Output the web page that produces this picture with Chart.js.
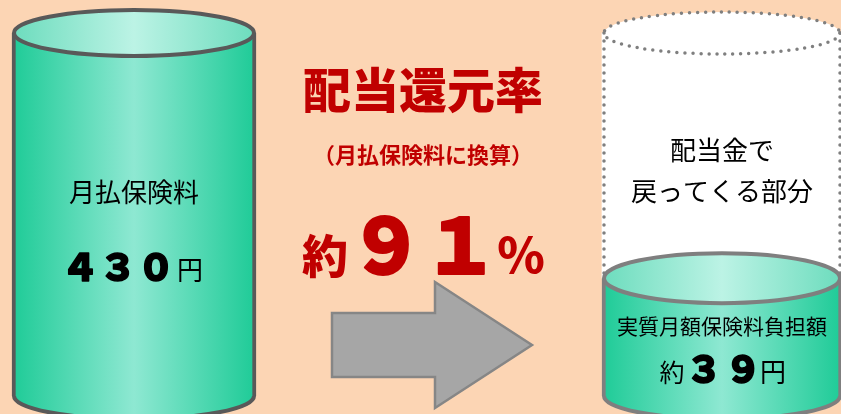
<!DOCTYPE html>
<html lang="ja">
<head>
<meta charset="utf-8">
<title>配当還元率</title>
<script src="https://cdn.jsdelivr.net/npm/chart.js@4.4.1/dist/chart.umd.min.js"></script>
<style>
    html, body { margin: 0; padding: 0; background: #FCD5B4; }
    #wrap { position: relative; width: 841px; height: 414px; }
</style>
</head>
<body>
<div id="wrap"><canvas id="returnChart"></canvas></div>
<script>
// Chart data
const categories = ['月払保険料', '実質月額保険料負担額'];
const monthlyPremium = [430, null];   // 月払保険料 (円)
const netPremium = [null, 39];        // 実質月額保険料負担額 (円)
const dividendPart = [null, [39, 430]]; // 配当金で戻ってくる部分
const returnRate = 91;                // 配当還元率 (%)

const FONT = "'Noto Sans CJK JP', 'Noto Sans', sans-serif";
const barWidths = [244, 240];

// half-width digits -> full-width
function fullWidth(n) {
    return String(n).replace(/[0-9]/g, d => String.fromCharCode(d.charCodeAt(0) + 0xFEE0));
}

function bodyGradient(c) {
    const chart = c.chart;
    if (!chart.chartArea) return '#1ECB97';
    const x = chart.scales.x.getPixelForValue(c.dataIndex);
    const w = barWidths[c.dataIndex];
    const g = chart.ctx.createLinearGradient(x - w / 2, 0, x + w / 2, 0);
    g.addColorStop(0, '#1ECB97');
    g.addColorStop(0.5, '#8EE8D2');
    g.addColorStop(1, '#1ECB97');
    return g;
}

function topGradient(ctx, x, w) {
    const g = ctx.createLinearGradient(x - w / 2, 0, x + w / 2, 0);
    g.addColorStop(0, '#6CDCBD');
    g.addColorStop(0.5, '#BCF3E5');
    g.addColorStop(1, '#6CDCBD');
    return g;
}

function hasValue(chart, di, i) {
    return chart.data.datasets[di].data[i] != null;
}

// heavier text: fill plus a thin stroke of the same colour
function heavyText(ctx, txt, x, y, extra) {
    ctx.fillText(txt, x, y);
    ctx.lineWidth = extra;
    ctx.strokeStyle = ctx.fillStyle;
    ctx.strokeText(txt, x, y);
}

// draws the round tops / bottoms of the bars so they look like cylinders
const cylinderPlugin = {
    id: 'cylinders',
    afterDatasetsDraw(chart) {
        const ctx = chart.ctx;
        ctx.save();

        // dotted cylinder (配当金で戻ってくる部分)
        chart.getDatasetMeta(2).data.forEach((bar, i) => {
            if (!hasValue(chart, 2, i)) return;
            const rx = bar.width / 2 - 2, ry = 21;
            ctx.beginPath();
            ctx.ellipse(bar.x, bar.y, rx, ry, 0, 0, Math.PI * 2);
            ctx.fillStyle = '#FFFFFF';
            ctx.fill();
            ctx.setLineDash([0, 8]);
            ctx.lineCap = 'round';
            ctx.lineWidth = 3.5;
            ctx.strokeStyle = '#7F7F7F';
            ctx.stroke();
            ctx.beginPath();
            ctx.moveTo(bar.x - rx, bar.y);
            ctx.lineTo(bar.x - rx, bar.base);
            ctx.moveTo(bar.x + rx, bar.y);
            ctx.lineTo(bar.x + rx, bar.base);
            ctx.stroke();
            ctx.setLineDash([]);
            ctx.lineCap = 'butt';
        });

        // green cylinders
        [[0, '#595959', 23], [1, '#7F7F7F', 25]].forEach(([di, line, ry]) => {
            chart.getDatasetMeta(di).data.forEach((bar, i) => {
                if (!hasValue(chart, di, i)) return;
                const w = barWidths[i];
                const rx = w / 2 - 2;
                // bottom
                ctx.beginPath();
                ctx.ellipse(bar.x, bar.base, rx, 23, 0, 0, Math.PI);
                ctx.fillStyle = bodyGradient({ chart: chart, dataIndex: i });
                ctx.fill();
                ctx.beginPath();
                ctx.ellipse(bar.x, bar.base, rx, 23, 0, 0, Math.PI);
                ctx.lineWidth = 4;
                ctx.strokeStyle = line;
                ctx.stroke();
                // top
                ctx.beginPath();
                ctx.ellipse(bar.x, bar.y, rx, ry, 0, 0, Math.PI * 2);
                ctx.fillStyle = topGradient(ctx, bar.x, w);
                ctx.fill();
                ctx.stroke();
            });
        });
        ctx.restore();
    },
    afterDraw(chart) {
        const ctx = chart.ctx;
        const xs = chart.scales.x;
        const leftX = xs.getPixelForValue(0);
        const rightX = xs.getPixelForValue(1);
        const midX = 423;
        ctx.save();

        // arrow
        ctx.beginPath();
        ctx.moveTo(332, 313);
        ctx.lineTo(435, 313);
        ctx.lineTo(435, 282);
        ctx.lineTo(532, 345);
        ctx.lineTo(435, 408);
        ctx.lineTo(435, 377);
        ctx.lineTo(332, 377);
        ctx.closePath();
        ctx.fillStyle = '#A6A6A6';
        ctx.fill();
        ctx.lineWidth = 2.5;
        ctx.strokeStyle = '#868686';
        ctx.stroke();

        ctx.textAlign = 'center';
        ctx.textBaseline = 'alphabetic';
        ctx.lineJoin = 'round';

        // center headline
        ctx.fillStyle = '#C00000';
        ctx.font = '900 48px ' + FONT;
        ctx.fillText('配当還元率', midX, 108);
        ctx.font = 'bold 22px ' + FONT;
        ctx.fillText('（' + categories[0] + 'に換算）', midX, 163);
        ctx.font = '900 46px ' + FONT;
        ctx.fillText('約', midX - 98, 273);
        const rate = fullWidth(returnRate);
        ctx.font = '900 76px ' + FONT;
        heavyText(ctx, rate[0], midX - 37, 274, 2);
        heavyText(ctx, rate[1], midX + 38, 274, 2);
        ctx.font = '900 48px ' + FONT;
        ctx.fillText('％', midX + 98, 273);

        ctx.fillStyle = '#000000';
        // left cylinder text
        ctx.font = '26px ' + FONT;
        ctx.fillText(categories[0], leftX, 202);
        const big = fullWidth(monthlyPremium[0]);
        ctx.font = '900 38px ' + FONT;
        [...big].forEach((ch, k) => heavyText(ctx, ch, leftX - 54 + k * 38, 281, 1.5));
        ctx.font = '26px ' + FONT;
        ctx.fillText('円', leftX + 56, 280);

        // right cylinder text
        ctx.font = '26px ' + FONT;
        ctx.fillText('配当金で', rightX, 160);
        ctx.fillText('戻ってくる部分', rightX, 201);
        ctx.font = '21px ' + FONT;
        ctx.fillText(categories[1], rightX, 334);
        ctx.font = '25px ' + FONT;
        ctx.fillText('約', rightX - 50, 382);
        const small = fullWidth(netPremium[1]);
        ctx.font = '900 37px ' + FONT;
        [...small].forEach((ch, k) => heavyText(ctx, ch, rightX - 18 + k * 39, 383, 1.5));
        ctx.font = '26px ' + FONT;
        ctx.fillText('円', rightX + 51, 382);

        ctx.restore();
    }
};

document.addEventListener('DOMContentLoaded', function() {
    const ctx = document.getElementById('returnChart').getContext('2d');
    new Chart(ctx, {
        type: 'bar',
        data: {
            labels: categories,
            datasets: [{
                label: categories[0],
                data: monthlyPremium,
                backgroundColor: bodyGradient,
                borderColor: '#595959',
                borderWidth: { left: 4, right: 4, top: 0, bottom: 0 },
                borderSkipped: false,
                barThickness: barWidths[0],
                grouped: false,
                clip: false
            }, {
                label: categories[1],
                data: netPremium,
                backgroundColor: bodyGradient,
                borderColor: '#7F7F7F',
                borderWidth: { left: 4, right: 4, top: 0, bottom: 0 },
                borderSkipped: false,
                barThickness: barWidths[1],
                grouped: false,
                clip: false
            }, {
                label: '配当金で戻ってくる部分',
                data: dividendPart,
                backgroundColor: '#FFFFFF',
                borderWidth: 0,
                barThickness: barWidths[1],
                grouped: false,
                clip: false
            }]
        },
        options: {
            responsive: true,
            maintainAspectRatio: false,
            animation: false,
            layout: {
                padding: { left: 134, right: 119, top: 33, bottom: 18 }
            },
            scales: {
                x: { display: false, offset: false },
                y: { type: 'logarithmic', display: false, min: 12.3, max: 430, bounds: 'data' }
            },
            plugins: {
                legend: { display: false },
                tooltip: { enabled: false }
            }
        },
        plugins: [cylinderPlugin]
    });
});
</script>
</body>
</html>
